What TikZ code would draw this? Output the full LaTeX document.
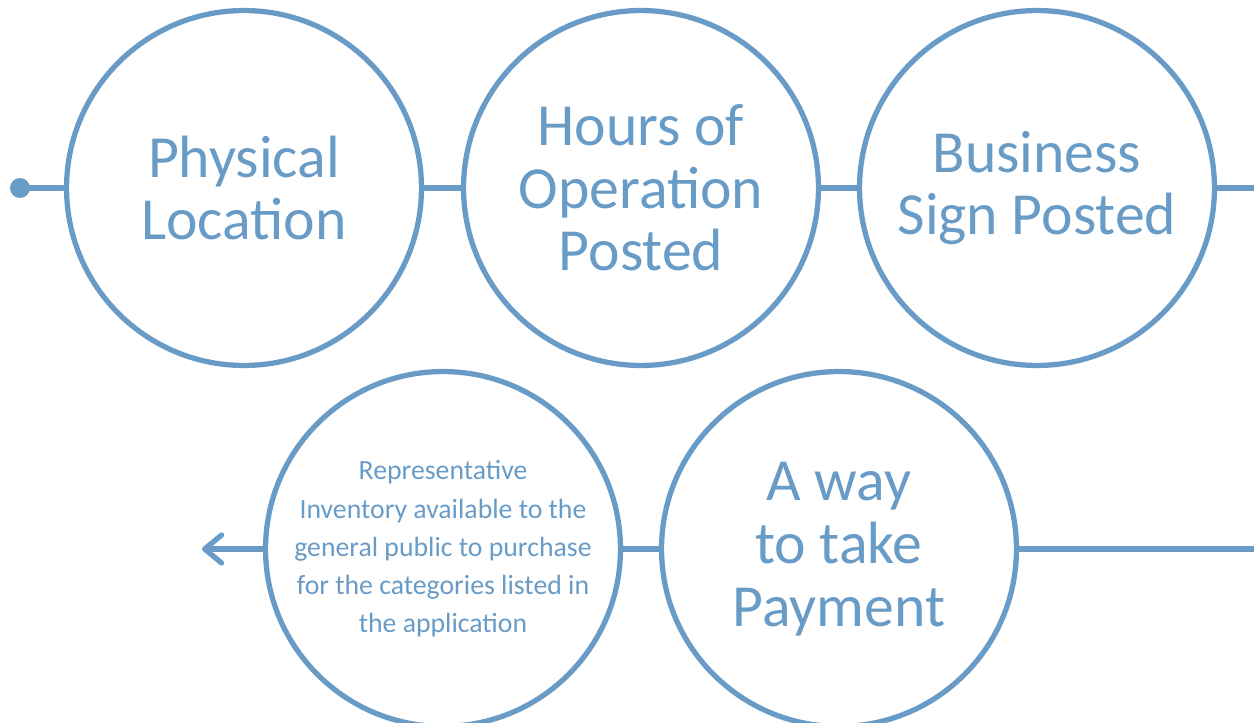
\documentclass[tikz,border=0pt]{standalone}
\usepackage{fontspec}
\setmainfont{Carlito}
\usetikzlibrary{arrows.meta}

\definecolor{ringblue}{RGB}{104,155,198}

\begin{document}
\begin{tikzpicture}[x=0.02cm, y=-0.02cm]
		\tikzset{ring/.style={circle, draw=ringblue, line width=3pt, minimum size=7.1cm, inner sep=0pt, text=ringblue, align=center, font=\fontsize{34}{35.7}\selectfont},
			small/.style={font=\fontsize{15.8}{21.8}\selectfont},
			link/.style={draw=ringblue, line width=3pt}};

		\useasboundingbox (0, 0) rectangle (1254, 723);

		\coordinate (start) at (20, 188);
		\coordinate (topend) at (1254, 188);
		\coordinate (botend) at (1254, 549);
		\coordinate (tip) at (202, 549);

		\node[ring] (loc) at (244, 188) {Physical\\Location};
		\node[ring] (hours) at (641, 188) {Hours of\\Operation\\Posted};
		\node[ring] (sign) at (1037, 188) {Business\\Sign Posted};
		\node[ring] (pay) at (839, 549) {A way\\to take\\Payment};
		\node[ring, small] (inv) at (443, 549) {Representative\\Inventory available to the\\general public to purchase\\for the categories listed in\\the application};

		\fill[ringblue] (start) circle (0.2cm);
		\draw[link] (start) to (loc);
		\draw[link] (loc) to (hours);
		\draw[link] (hours) to (sign);
		\draw[link] (sign) to (topend);

		\draw[link] (botend) to (pay);
		\draw[link] (pay) to (inv);
		\draw[link, -{Straight Barb[round, length=0.34cm, width=0.56cm]}] (inv) to (tip);
	\end{tikzpicture}
\end{document}
